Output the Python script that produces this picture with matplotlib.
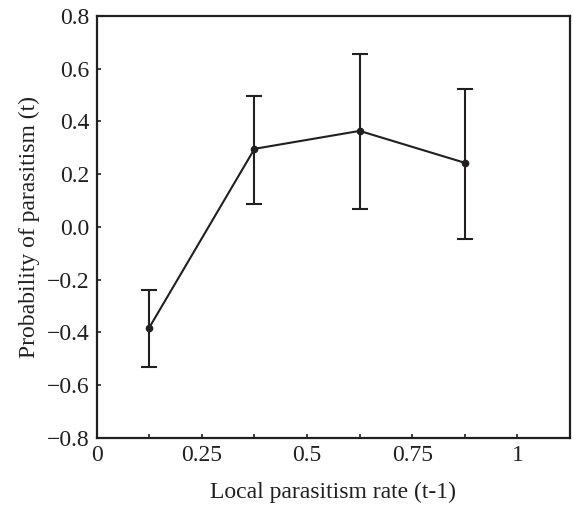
import matplotlib
matplotlib.use("Agg")
import matplotlib.pyplot as plt
import numpy as np

x = [0.125, 0.375, 0.625, 0.875]
y = [-0.382, 0.296, 0.364, 0.243]
err_low = [-0.530, 0.088, 0.068, -0.045]
err_high = [-0.239, 0.497, 0.655, 0.523]
xticks = [0, 0.125, 0.25, 0.375, 0.5, 0.625, 0.75, 0.875, 1.0]
xticklabels = ["0", "", "0.25", "", "0.5", "", "0.75", "", "1"]
yticks = [-0.8, -0.6, -0.4, -0.2, 0.0, 0.2, 0.4, 0.6, 0.8]
yticklabels = ["\u22120.8", "\u22120.6", "\u22120.4", "\u22120.2", "0.0", "0.2", "0.4", "0.6", "0.8"]

plt.rcParams['font.family'] = ['Liberation Serif', 'DejaVu Serif']

fig = plt.figure(figsize=(5.73, 5.05), dpi=100)
ax = fig.add_axes([0.1688, 0.1333, 0.826, 0.835])

yerr = [np.array(y) - np.array(err_low), np.array(err_high) - np.array(y)]
ax.errorbar(x, y, yerr=yerr, color='#231f20', lw=1.5, marker='o', ms=4.5,
            capsize=5.5, capthick=1.5, elinewidth=1.5)

ax.set_xlim(0, 1.125)
ax.set_ylim(-0.8, 0.8)
ax.set_xticks(xticks)
ax.set_xticklabels(xticklabels)
ax.set_yticks(yticks)
ax.set_yticklabels(yticklabels)
ax.tick_params(direction='in', length=3, width=1.2, labelsize=17, colors='#231f20')
ax.tick_params(axis='x', pad=5)
ax.tick_params(axis='y', pad=5)
for s in ax.spines.values():
    s.set_linewidth(1.6)
    s.set_color('#231f20')

ax.set_xlabel("Local parasitism rate (t-1)", fontsize=17, color='#231f20', labelpad=12)
ax.set_ylabel("Probability of parasitism (t)", fontsize=17, color='#231f20', labelpad=5)

fig.savefig("out.png", dpi=100)
